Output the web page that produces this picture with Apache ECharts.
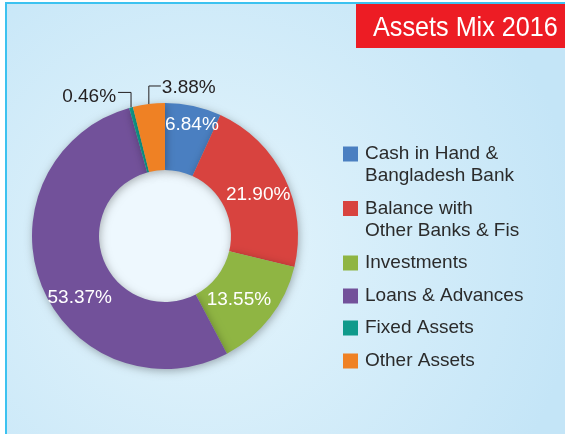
<!DOCTYPE html>
<html>
<head>
<meta charset="utf-8">
<script src="https://cdn.jsdelivr.net/npm/echarts@6/dist/echarts.min.js"></script>
<style>html,body{margin:0;padding:0;background:#fff;}#c{width:565px;height:434px;}</style>
</head>
<body>
<div id="c"></div>
<script>
const titleText = 'Assets Mix 2016';
const categories = ['Cash in Hand &\nBangladesh Bank', 'Balance with\nOther Banks & Fis', 'Investments', 'Loans & Advances', 'Fixed Assets', 'Other Assets'];
const values = [6.84, 21.90, 13.55, 53.37, 0.46, 3.88];
const colors = ['#4a7fc1', '#d8433f', '#8fb543', '#72519a', '#0f9a8b', '#ef8124'];
const outsideIdx = [4, 5];
const legendCenters = [154, 208.5, 263, 296, 328, 361];

const chart = echarts.init(document.getElementById('c'), null, {renderer: 'canvas'});
const cx = 165, cy = 236;

const data = categories.map((n, i) => {
  const d = {name: n, value: values[i], itemStyle: {color: colors[i]}};
  if (outsideIdx.includes(i)) {
    d.label = {position: 'outside', color: '#231f20'};
    d.labelLine = {show: true, length: 10, length2: 10, lineStyle: {color: '#231f20', width: 1}};
  }
  return d;
});

const legends = categories.map((n, i) => {
  const two = n.indexOf('\n') >= 0;
  return {
    orient: 'vertical', left: 343, top: legendCenters[i] - (two ? 33 : 11),
    padding: 0, itemWidth: 15, itemHeight: 15, itemGap: 0,
    icon: 'rect', selectedMode: false,
    data: [n],
    formatter: name => (name.indexOf('\n') >= 0 ? '\u00a0\n' + name : name),
    textStyle: {fontFamily: 'Liberation Sans, Arial, sans-serif', fontSize: 19, color: '#2b2b2b', lineHeight: 22, padding: [0, 0, 0, 2]}
  };
});

// inside label nudges (as seen in the reference)
const labelShift = {0: [5, -11], 1: [1, 4], 2: [-7, 1], 3: [10, 24]};

chart.setOption({
  animation: false,
  graphic: [
    {type: 'rect', z: -10, silent: true,
      shape: {x: 6, y: 3, width: 620, height: 500},
      style: {
        fill: new echarts.graphic.RadialGradient(0.32, 0.5, 0.75, [
          {offset: 0, color: '#e5f5fc'},
          {offset: 1, color: '#c4e5f7'}
        ]),
        stroke: '#3cc2f0', lineWidth: 2
      }},
    {type: 'circle', z: -9, silent: true, shape: {cx: cx, cy: cy, r: 66}, style: {fill: '#eef8fe'}},
    {type: 'rect', z: 10, silent: true, shape: {x: 356, y: 4, width: 215, height: 44}, style: {fill: '#ed1c24'}},
    {type: 'text', z: 11, silent: true, x: 373, y: 28, scaleX: 0.9, originX: 0, originY: 0,
      style: {text: titleText, fill: '#ffffff', font: '28px "Liberation Sans", Arial, sans-serif', verticalAlign: 'middle', align: 'left'}}
  ],
  legend: legends,
  series: [{
    type: 'pie',
    center: [cx, cy],
    radius: [66, 133],
    startAngle: 90,
    clockwise: true,
    avoidLabelOverlap: false,
    z: 2,
    itemStyle: {shadowBlur: 8, shadowColor: 'rgba(0,0,0,0.3)', shadowOffsetX: 1, shadowOffsetY: 2},
    emphasis: {disabled: true},
    label: {
      show: true, position: 'inside', color: '#ffffff',
      fontFamily: 'Liberation Sans, Arial, sans-serif', fontSize: 19,
      formatter: p => p.value.toFixed(2) + '%'
    },
    labelLine: {show: false},
    labelLayout: function (p) {
      if (labelShift[p.dataIndex]) return {dx: labelShift[p.dataIndex][0], dy: labelShift[p.dataIndex][1]};
      const pts = p.labelLinePoints;
      if (p.dataIndex === 4 && pts) {
        const e = pts[0];
        const ly = e[1] - 15, lx = e[0] - 13;
        return {x: lx - 2, y: ly + 4, align: 'right', verticalAlign: 'middle',
          labelLinePoints: [[e[0], e[1]], [e[0], ly], [lx, ly]]};
      }
      if (p.dataIndex === 5 && pts) {
        const e = pts[0];
        const ly = e[1] - 18, lx = e[0] + 12;
        return {x: lx + 1, y: ly + 2, align: 'left', verticalAlign: 'middle',
          labelLinePoints: [[e[0], e[1]], [e[0], ly], [lx, ly]]};
      }
    },
    data: data
  }]
});
</script>
</body>
</html>
